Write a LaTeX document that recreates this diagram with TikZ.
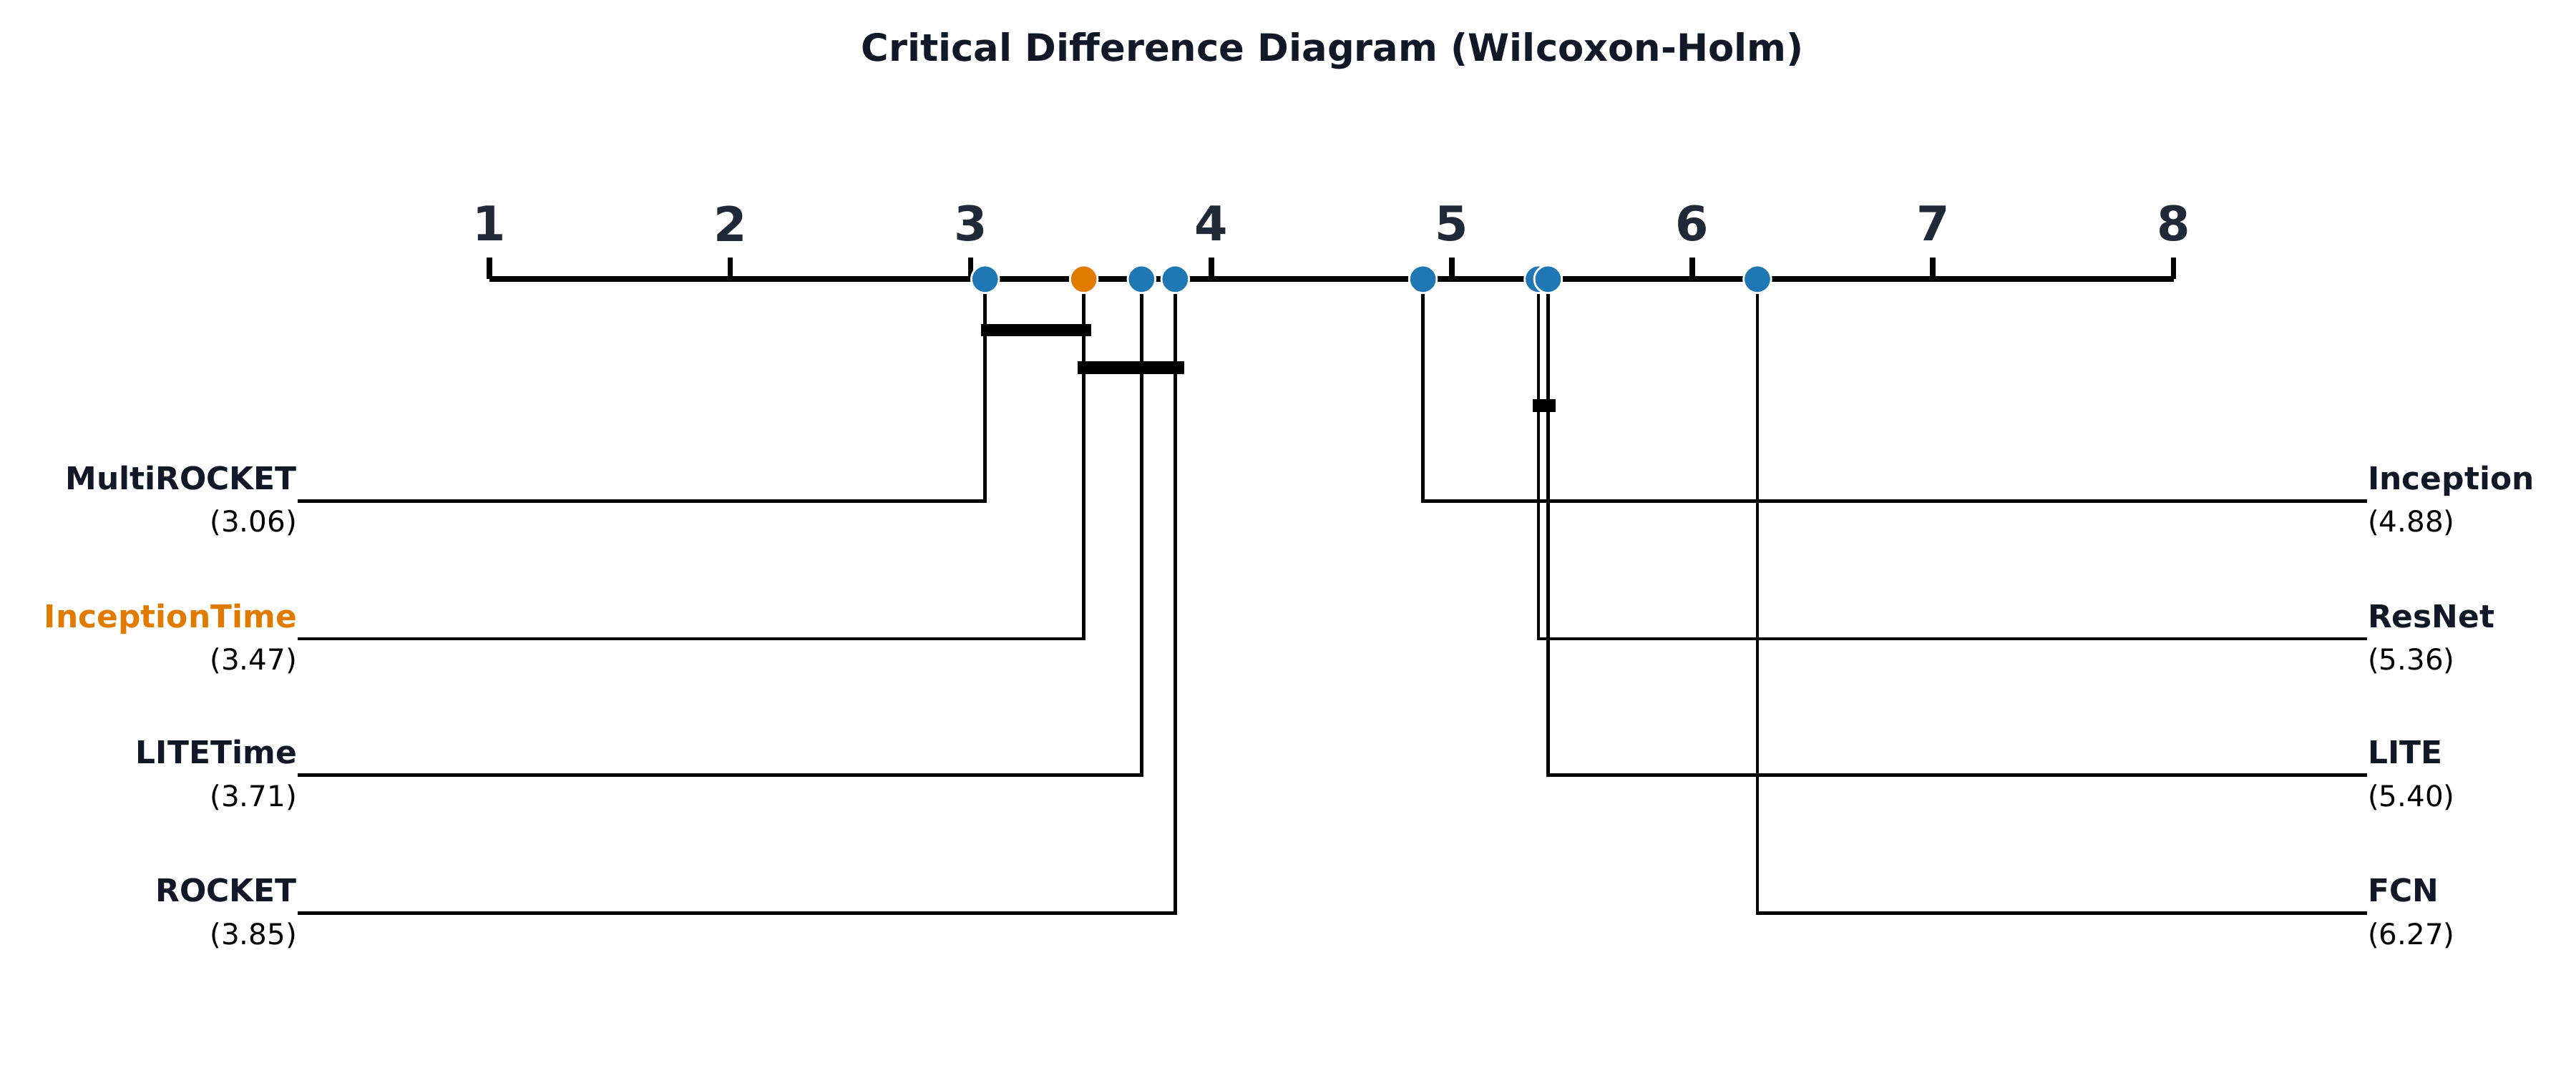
\documentclass[tikz,border=0pt]{standalone}
\usepackage{fontspec}
\setmainfont{DejaVu Sans}
\definecolor{navy}{HTML}{111827}
\definecolor{tickc}{HTML}{1F2937}
\definecolor{dotblue}{HTML}{1F77B4}
\definecolor{dotorange}{HTML}{E07B00}
\begin{document}
\begin{tikzpicture}[x=0.02296cm,y=-0.02296cm,
  conn/.style={line width=1.3pt,black},
  dot/.style={circle,draw=white,line width=0.8pt,fill=dotblue,minimum size=11pt,inner sep=0pt},
  odot/.style={dot,fill=dotorange},
  lname/.style={font=\bfseries\fontsize{12.5}{14}\selectfont,text=navy,inner sep=0pt},
  rank/.style={font=\fontsize{11.5}{13}\selectfont,inner sep=0pt},
  ticklab/.style={font=\bfseries\fontsize{19}{22}\selectfont,text=tickc,inner sep=0pt},
  clique/.style={line width=5pt,black}]
\useasboundingbox (0,0) rectangle (1568,653);
\node[font=\bfseries\fontsize{15}{18}\selectfont,text=navy] (title) at (811,31) {Critical Difference Diagram (Wilcoxon-Holm)};
% axis
\coordinate (a1) at (298,170); \coordinate (a8) at (1323,170);
\draw[line width=2.2pt] (a1) -- (a8);
\foreach \i in {1,...,8}{
  \coordinate (t\i) at ({298+(\i-1)*146.43},170);
  \draw[line width=2.2pt] (t\i) -- ++(0,-13);
  \node[ticklab] (tl\i) at ({298+(\i-1)*146.43},136) {\i};
}
% method coordinates
\foreach \n/\r/\y in {mr/3.06/305,it/3.47/389,lt/3.71/472,ro/3.85/556,in/4.88/305,rn/5.36/389,li/5.40/472,fc/6.27/556}{
  \coordinate (p\n) at ({298+(\r-1)*146.43},170);
  \coordinate (c\n) at ({298+(\r-1)*146.43},\y);
}
\coordinate (lmr) at (181,305); \coordinate (lit) at (181,389); \coordinate (llt) at (181,472); \coordinate (lro) at (181,556);
\coordinate (rin) at (1441,305); \coordinate (rrn) at (1441,389); \coordinate (rli) at (1441,472); \coordinate (rfc) at (1441,556);
\foreach \n in {mr,it,lt,ro}{\draw[conn] (p\n) -- (c\n) -- (l\n);}
\foreach \n in {in,rn,li,fc}{\draw[conn] (p\n) -- (c\n) -- (r\n);}
% cliques
\coordinate (k1a) at (597,201); \coordinate (k1b) at (664,201);
\coordinate (k2a) at (656,224); \coordinate (k2b) at (721,224);
\coordinate (k3a) at (933,247); \coordinate (k3b) at (947,247);
\draw[clique] (k1a) -- (k1b);
\draw[clique] (k2a) -- (k2b);
\draw[clique] (k3a) -- (k3b);
% dots
\node[dot] (dmr) at (pmr) {};
\node[odot] (dit) at (pit) {};
\node[dot] (dlt) at (plt) {};
\node[dot] (dro) at (pro) {};
\node[dot] (din) at (pin) {};
\node[dot] (drn) at (prn) {};
\node[dot] (dli) at (pli) {};
\node[dot] (dfc) at (pfc) {};
% left labels
\node[lname,anchor=base east] (nmr) at (181,298) {MultiROCKET};
\node[rank,anchor=base east] (rkmr) at (181,324) {(3.06)};
\node[lname,anchor=base east,text=dotorange] (nit) at (181,382) {InceptionTime};
\node[rank,anchor=base east] (rkit) at (181,408) {(3.47)};
\node[lname,anchor=base east] (nlt) at (181,465) {LITETime};
\node[rank,anchor=base east] (rklt) at (181,491) {(3.71)};
\node[lname,anchor=base east] (nro) at (181,549) {ROCKET};
\node[rank,anchor=base east] (rkro) at (181,575) {(3.85)};
% right labels
\node[lname,anchor=base west] (nin) at (1441,298) {Inception};
\node[rank,anchor=base west] (rkin) at (1441,324) {(4.88)};
\node[lname,anchor=base west] (nrn) at (1441,382) {ResNet};
\node[rank,anchor=base west] (rkrn) at (1441,408) {(5.36)};
\node[lname,anchor=base west] (nli) at (1441,465) {LITE};
\node[rank,anchor=base west] (rkli) at (1441,491) {(5.40)};
\node[lname,anchor=base west] (nfc) at (1441,549) {FCN};
\node[rank,anchor=base west] (rkfc) at (1441,575) {(6.27)};
\end{tikzpicture}
\end{document}
